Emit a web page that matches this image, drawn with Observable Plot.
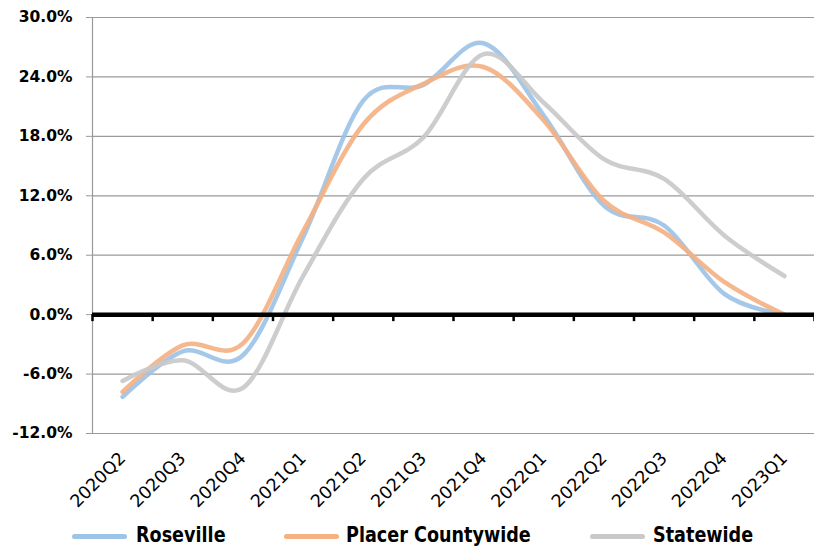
<!DOCTYPE html>
<html>
<head>
<meta charset="utf-8">
<script src="https://cdn.jsdelivr.net/npm/d3@7"></script>
<script src="https://cdn.jsdelivr.net/npm/@observablehq/plot@0.6"></script>
<style>
  html, body { margin: 0; padding: 0; background: #fff; }
  #wrap { width: 814px; position: relative; }
  #legend { position: relative; width: 814px; height: 32px; font-family: "DejaVu Sans", sans-serif; font-weight: bold; font-size: 22px; color: #000; overflow: hidden; }
  .sw { position: absolute; top: 18.5px; width: 55px; height: 5px; border-radius: 3px; }
  .lb { position: absolute; top: 8px; white-space: nowrap; line-height: 24px; transform: scaleX(0.8); transform-origin: 0 50%; }
</style>
</head>
<body>
<div id="wrap"></div>
<script>
const quarters = ["2020Q2","2020Q3","2020Q4","2021Q1","2021Q2","2021Q3","2021Q4","2022Q1","2022Q2","2022Q3","2022Q4","2023Q1"];
const seriesNames = ["Roseville", "Placer Countywide", "Statewide"];
const roseville = [-8.3, -3.7, -4.1, 7.8, 21.6, 23.2, 27.4, 20.1, 11.0, 9.0, 2.1, 0.0];
const placer    = [-7.8, -3.1, -2.9, 8.4, 19.2, 23.3, 25.0, 19.6, 11.5, 8.3, 3.3, 0.0];
const statewide = [-6.7, -4.6, -7.4, 3.9, 13.7, 17.9, 26.3, 21.4, 15.7, 13.7, 8.0, 3.9];
const yTicks = [-12, -6, 0, 6, 12, 18, 24, 30];
const colors = ["#9DC3E6", "#F4B183", "#C9C9C9"];

const rows = [];
[roseville, placer, statewide].forEach((vals, s) => {
  vals.forEach((v, i) => rows.push({series: seriesNames[s], i, v}));
});
const boundaries = d3.range(quarters.length + 1).map(k => k - 0.5);

const chart = Plot.plot({
  width: 814,
  height: 515,
  marginLeft: 92,
  marginRight: 0,
  marginTop: 17,
  marginBottom: 82,
  style: {fontFamily: "DejaVu Sans", background: "#fff", color: "#000"},
  x: {type: "linear", domain: [-0.5, quarters.length - 0.5], axis: null},
  y: {domain: [-12, 30], axis: null},
  color: {domain: seriesNames, range: colors},
  marks: [
    Plot.ruleY(yTicks.filter(v => v !== 0), {stroke: "#9a9a9a", strokeWidth: 1.2}),
    Plot.ruleX([-0.5], {stroke: "#9a9a9a", strokeWidth: 1.2}),
    Plot.axisY({
      ticks: yTicks, tickFormat: v => v.toFixed(1) + "%", tickSize: 6, tickPadding: 14,
      stroke: "#9a9a9a", fill: "#000", fontWeight: "bold", fontSize: 15.5, label: null
    }),
    Plot.axisX({
      ticks: d3.range(quarters.length), tickFormat: i => quarters[i], tickRotate: -45,
      tickSize: 0, tickPadding: 22, fontSize: 17.5, fill: "#000", label: null
    }),
    Plot.line(rows, {x: "i", y: "v", stroke: "series", z: "series", strokeWidth: 4.5, strokeOpacity: 0.92, curve: "cardinal"}),
    Plot.ruleY([0], {stroke: "#000", strokeWidth: 4.5}),
    Plot.ruleX(boundaries, {y1: 0, y2: 0, insetBottom: -7, stroke: "#000", strokeWidth: 2.5})
  ]
});
document.getElementById("wrap").appendChild(chart);

const legend = document.createElement("div");
legend.id = "legend";
const pos = [[72, 136], [284, 346], [590, 653]];
seriesNames.forEach((name, k) => {
  const sw = document.createElement("div");
  sw.className = "sw";
  sw.style.left = pos[k][0] + "px";
  sw.style.background = colors[k];
  const lb = document.createElement("div");
  lb.className = "lb";
  lb.style.left = pos[k][1] + "px";
  lb.textContent = name;
  legend.appendChild(sw);
  legend.appendChild(lb);
});
document.getElementById("wrap").appendChild(legend);
</script>
</body>
</html>
